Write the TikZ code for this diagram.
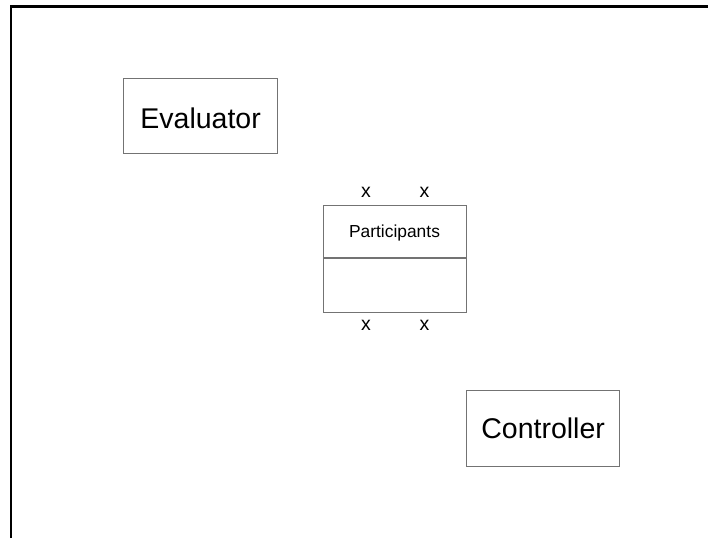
\documentclass[tikz,border=0pt]{standalone}
\usepackage{fontspec}
\setmainfont{Liberation Sans}
\begin{document}
\begin{tikzpicture}[x=1pt,y=-1pt,
  box/.style={draw=black!55, line width=1.2pt, fill=white, inner sep=0pt, anchor=north west},
  big/.style={font=\fontsize{28.5}{32}\selectfont},
  xmark/.style={font=\fontsize{19.5}{22}\selectfont, inner sep=0pt}
]
\useasboundingbox (0,0) rectangle (708,538);
% frame
\coordinate (fbl) at (10.8,538);
\coordinate (ftl) at (10.8,6.5);
\coordinate (ftr) at (708,6.5);
\draw[line width=2.2pt] (fbl) -- (ftl) -- (ftr);
% Evaluator
\node[box, minimum width=154pt, minimum height=75pt] (ev) at (123,78) {};
\node[big] (evt) at ([yshift=-2pt]ev.center) {Evaluator};
% Controller
\node[box, minimum width=153pt, minimum height=76pt] (co) at (466,390) {};
\node[big] (cot) at (co.center) {Controller};
% Participants
\node[box, minimum width=143pt, minimum height=107pt] (pa) at (323,205) {};
\coordinate (dl) at (323,258);
\coordinate (dr) at (466,258);
\draw[draw=black!55, line width=1.2pt] (dl) -- (dr);
\node[font=\fontsize{17.4}{20}\selectfont] (pat) at (394.5,233) {Participants};
\node[xmark] (x1) at (366,192.5) {x};
\node[xmark] (x2) at (424.5,192.5) {x};
\node[xmark] (x3) at (366,325) {x};
\node[xmark] (x4) at (424.5,325) {x};
\end{tikzpicture}
\end{document}
